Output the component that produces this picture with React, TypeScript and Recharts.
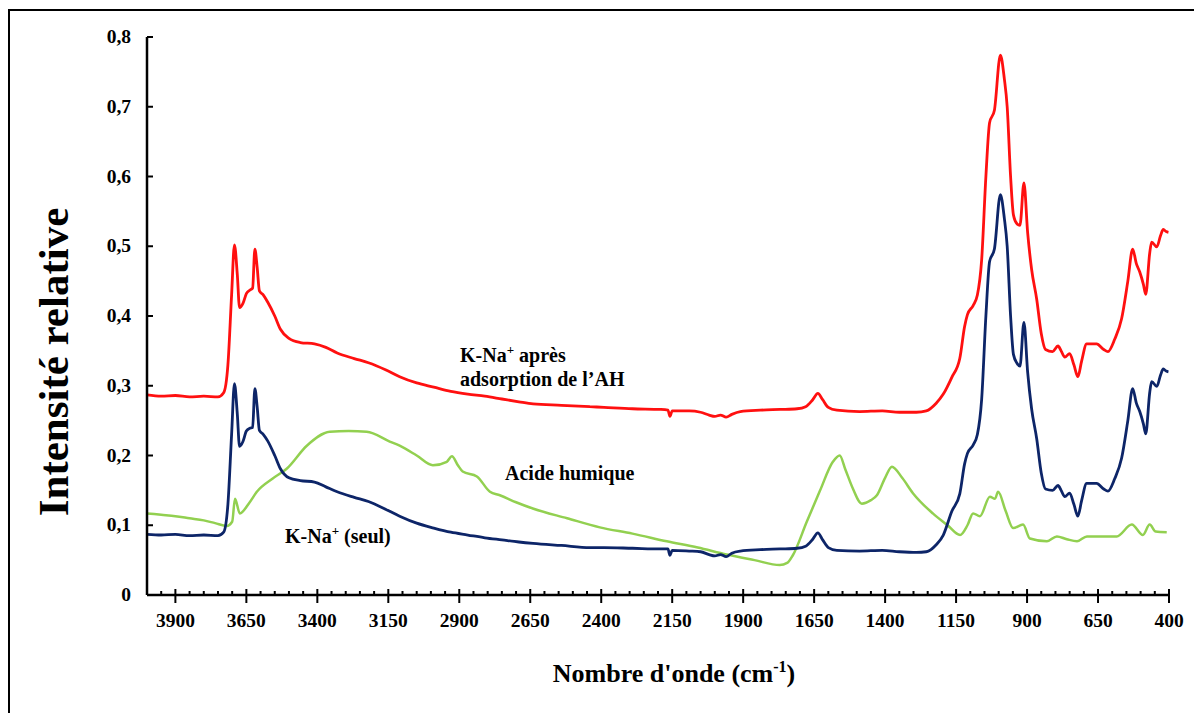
import { LineChart, Line, XAxis, YAxis } from 'recharts';

// spectre FTIR : [nombre d'onde, intensité]
const apresAH: [number, number][] = [
  [4000, 0.287], [3950, 0.285], [3900, 0.286], [3850, 0.284], [3800, 0.285], [3750, 0.284],
  [3730, 0.29], [3715, 0.33], [3702, 0.43], [3692, 0.502], [3682, 0.46], [3674, 0.412],
  [3662, 0.418], [3650, 0.432], [3638, 0.437], [3628, 0.44], [3620, 0.496], [3612, 0.47],
  [3604, 0.436], [3590, 0.43], [3575, 0.42], [3550, 0.4], [3530, 0.381], [3500, 0.368],
  [3460, 0.362], [3410, 0.36], [3370, 0.355], [3330, 0.347], [3270, 0.339], [3220, 0.333],
  [3160, 0.323], [3110, 0.313], [3050, 0.304], [2990, 0.298], [2930, 0.292], [2870, 0.288],
  [2810, 0.285], [2750, 0.281], [2690, 0.277], [2640, 0.274], [2540, 0.272], [2440, 0.27],
  [2390, 0.269], [2290, 0.267], [2190, 0.266], [2165, 0.265], [2158, 0.256], [2150, 0.264],
  [2090, 0.264], [2050, 0.262], [2020, 0.258], [2000, 0.256], [1980, 0.258], [1960, 0.255],
  [1940, 0.259], [1910, 0.263], [1840, 0.265], [1770, 0.266], [1710, 0.267], [1680, 0.27],
  [1655, 0.28], [1637, 0.289], [1620, 0.28], [1600, 0.269], [1570, 0.265], [1490, 0.263],
  [1410, 0.264], [1350, 0.262], [1290, 0.262], [1255, 0.264], [1220, 0.275], [1195, 0.288],
  [1165, 0.312], [1137, 0.339], [1120, 0.385], [1110, 0.402], [1090, 0.415], [1075, 0.43],
  [1060, 0.48], [1045, 0.6], [1032, 0.677], [1015, 0.695], [994, 0.774], [980, 0.74],
  [970, 0.7], [958, 0.6], [948, 0.545], [935, 0.532], [925, 0.53], [911, 0.591],
  [898, 0.52], [884, 0.467], [866, 0.424], [850, 0.375], [835, 0.352], [810, 0.349],
  [791, 0.357], [780, 0.35], [767, 0.341], [750, 0.346], [735, 0.33], [721, 0.313],
  [708, 0.335], [690, 0.36], [655, 0.36], [630, 0.352], [615, 0.349], [591, 0.367],
  [567, 0.396], [545, 0.45], [528, 0.496], [515, 0.475], [503, 0.463], [490, 0.445],
  [482, 0.431], [468, 0.49], [461, 0.506], [443, 0.499], [430, 0.515], [420, 0.524],
  [410, 0.521], [402, 0.52],
];

const seul: [number, number][] = [
  [4000, 0.087], [3950, 0.086], [3900, 0.087], [3850, 0.085], [3800, 0.086], [3750, 0.085],
  [3730, 0.09], [3715, 0.13], [3702, 0.23], [3692, 0.303], [3682, 0.26], [3674, 0.213],
  [3662, 0.22], [3650, 0.235], [3638, 0.239], [3628, 0.24], [3620, 0.296], [3612, 0.27],
  [3604, 0.236], [3590, 0.23], [3575, 0.221], [3550, 0.2], [3530, 0.181], [3500, 0.168],
  [3460, 0.164], [3410, 0.162], [3370, 0.155], [3330, 0.148], [3270, 0.14], [3220, 0.134],
  [3160, 0.123], [3110, 0.113], [3050, 0.103], [2990, 0.096], [2930, 0.09], [2870, 0.086],
  [2810, 0.082], [2750, 0.079], [2690, 0.076], [2640, 0.074], [2540, 0.071], [2440, 0.068],
  [2390, 0.068], [2290, 0.067], [2190, 0.066], [2165, 0.066], [2158, 0.057], [2150, 0.064],
  [2090, 0.063], [2050, 0.062], [2020, 0.058], [2000, 0.056], [1980, 0.058], [1960, 0.055],
  [1940, 0.06], [1910, 0.063], [1840, 0.065], [1770, 0.066], [1710, 0.067], [1680, 0.07],
  [1655, 0.08], [1637, 0.089], [1620, 0.079], [1600, 0.068], [1570, 0.064], [1490, 0.063],
  [1410, 0.064], [1350, 0.062], [1290, 0.061], [1255, 0.062], [1220, 0.072], [1195, 0.086],
  [1165, 0.12], [1137, 0.145], [1120, 0.188], [1110, 0.203], [1090, 0.215], [1075, 0.23],
  [1060, 0.28], [1045, 0.4], [1032, 0.478], [1015, 0.496], [994, 0.574], [980, 0.54],
  [970, 0.5], [958, 0.4], [948, 0.345], [935, 0.332], [925, 0.328], [911, 0.391],
  [898, 0.32], [884, 0.267], [866, 0.224], [850, 0.175], [835, 0.152], [810, 0.15],
  [791, 0.157], [780, 0.15], [767, 0.141], [750, 0.146], [735, 0.13], [721, 0.113],
  [708, 0.135], [690, 0.16], [655, 0.16], [630, 0.152], [615, 0.149], [591, 0.167],
  [567, 0.196], [545, 0.25], [528, 0.296], [515, 0.275], [503, 0.263], [490, 0.245],
  [482, 0.231], [468, 0.29], [461, 0.306], [443, 0.299], [430, 0.315], [420, 0.324],
  [410, 0.321], [402, 0.32],
];

const acideHumique: [number, number][] = [
  [4000, 0.117], [3950, 0.115], [3900, 0.113], [3850, 0.11], [3800, 0.107], [3760, 0.103],
  [3719, 0.099], [3700, 0.105], [3690, 0.138], [3673, 0.117], [3640, 0.132], [3613, 0.148],
  [3557, 0.167], [3508, 0.181], [3437, 0.214], [3356, 0.234], [3290, 0.235], [3226, 0.234],
  [3145, 0.22], [3110, 0.214], [3050, 0.2], [2993, 0.186], [2944, 0.191], [2926, 0.199],
  [2905, 0.186], [2888, 0.177], [2838, 0.17], [2792, 0.148], [2757, 0.143], [2700, 0.133],
  [2641, 0.124], [2520, 0.11], [2405, 0.097], [2290, 0.088], [2169, 0.077], [2060, 0.068],
  [1958, 0.058], [1860, 0.05], [1771, 0.043], [1745, 0.046], [1725, 0.057], [1676, 0.105],
  [1630, 0.149], [1584, 0.191], [1560, 0.2], [1540, 0.18], [1514, 0.153], [1482, 0.131],
  [1450, 0.136], [1429, 0.143], [1400, 0.168], [1376, 0.184], [1340, 0.168], [1302, 0.146],
  [1232, 0.117], [1180, 0.1], [1136, 0.086], [1110, 0.1], [1090, 0.117], [1066, 0.113],
  [1031, 0.141], [1013, 0.138], [1002, 0.148], [975, 0.12], [949, 0.096], [914, 0.101],
  [890, 0.081], [830, 0.077], [795, 0.084], [760, 0.08], [724, 0.077], [689, 0.084],
  [584, 0.084], [531, 0.101], [492, 0.086], [468, 0.101], [447, 0.091], [408, 0.09],
];

const xMajorTicks = [3900, 3650, 3400, 3150, 2900, 2650, 2400, 2150, 1900, 1650, 1400, 1150, 900, 650, 400];
const yTicks = [0, 0.1, 0.2, 0.3, 0.4, 0.5, 0.6, 0.7, 0.8];

const xAllTicks: number[] = [];
for (let v = 3950; v >= 400; v -= 50) xAllTicks.push(v);

const toPoints = (s: [number, number][]) => s.map(([x, y]) => ({ x, y }));

const FONT = '"Liberation Serif", "Times New Roman", serif';

function XTick(props: any) {
  const { x, y, payload } = props;
  const major = xMajorTicks.includes(payload.value);
  return (
    <g>
      <line x1={x} x2={x} y1={major ? y - 6 : y - 4} y2={major ? y + 8 : y} stroke="#000" strokeWidth={2} />
      {major && (
        <text x={x} y={y + 32} textAnchor="middle" fontFamily={FONT} fontWeight="bold" fontSize={19.5} fill="#000">
          {payload.value}
        </text>
      )}
    </g>
  );
}

function YTick(props: any) {
  const { x, y, payload } = props;
  const label = payload.value === 0 ? '0' : String(payload.value).replace('.', ',');
  return (
    <g>
      <line x1={x} x2={x + 6} y1={y} y2={y} stroke="#000" strokeWidth={2} />
      <text x={x - 16} y={y + 6} textAnchor="end" fontFamily={FONT} fontWeight="bold" fontSize={19.5} fill="#000">
        {label}
      </text>
    </g>
  );
}

export default function App() {
  const textStyle = { fontFamily: FONT, fontWeight: 'bold' as const, fill: '#000' };
  return (
    <div style={{ position: 'absolute', left: 0, top: 0, width: 1194, height: 713, background: '#fff' }}>
      <LineChart width={1194} height={713} margin={{ top: 37, right: 25, left: 0, bottom: 0 }}>
        <XAxis
          type="number"
          dataKey="x"
          domain={[400, 4000]}
          reversed
          ticks={xAllTicks}
          interval={0}
          tick={(p: any) => <XTick {...p} />}
          tickLine={false}
          tickSize={0}
          tickMargin={0}
          height={118}
          axisLine={{ stroke: '#000', strokeWidth: 2.5 }}
          allowDataOverflow
        />
        <YAxis
          type="number"
          domain={[0, 0.8]}
          ticks={yTicks}
          interval={0}
          tick={(p: any) => <YTick {...p} />}
          tickLine={false}
          tickSize={0}
          tickMargin={0}
          width={147}
          axisLine={{ stroke: '#000', strokeWidth: 2.5 }}
        />
        <Line data={toPoints(acideHumique)} dataKey="y" type="monotone" stroke="#92d050" strokeWidth={2.5} dot={false} isAnimationActive={false} />
        <Line data={toPoints(seul)} dataKey="y" type="monotone" stroke="#0d2568" strokeWidth={2.8} dot={false} isAnimationActive={false} />
        <Line data={toPoints(apresAH)} dataKey="y" type="monotone" stroke="#ff1010" strokeWidth={2.8} dot={false} isAnimationActive={false} />
      </LineChart>
      <svg width={1194} height={713} style={{ position: 'absolute', left: 0, top: 0, pointerEvents: 'none' }}>
        <line x1={9} x2={9} y1={10} y2={713} stroke="#000" strokeWidth={2} />
        <line x1={8} x2={1194} y1={10} y2={10} stroke="#000" strokeWidth={2} />
        <text x={68} y={362} transform="rotate(-90 68 362)" textAnchor="middle" fontSize={43} {...textStyle}>
          Intensité relative
        </text>
        <text x={674} y={682} textAnchor="middle" fontSize={26} {...textStyle}>
          Nombre d'onde (cm<tspan dy={-10} fontSize={16}>-1</tspan><tspan dy={10}>)</tspan>
        </text>
        <text x={460} y={362} fontSize={20} {...textStyle}>
          K-Na<tspan dy={-8} fontSize={13}>+</tspan><tspan dy={8}> après</tspan>
        </text>
        <text x={460} y={386} fontSize={20} {...textStyle}>
          adsorption de l’AH
        </text>
        <text x={505} y={480} fontSize={20} {...textStyle}>
          Acide humique
        </text>
        <text x={285} y={543} fontSize={20} {...textStyle}>
          K-Na<tspan dy={-8} fontSize={13}>+</tspan><tspan dy={8}> (seul)</tspan>
        </text>
      </svg>
    </div>
  );
}
